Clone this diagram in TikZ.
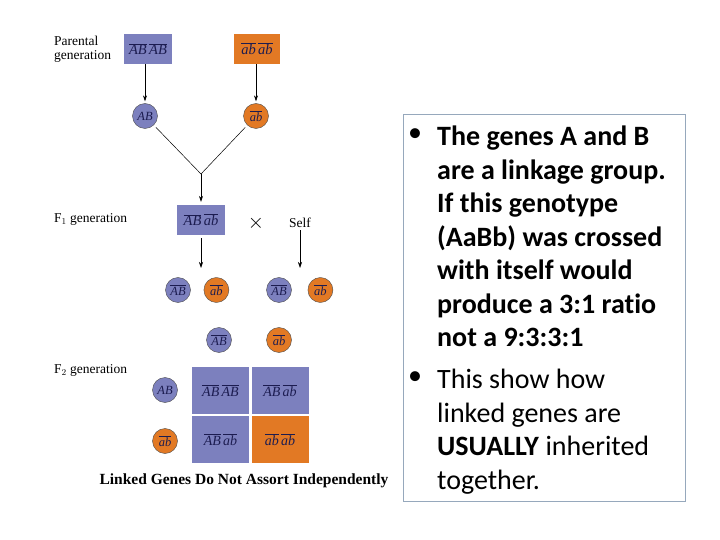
\documentclass[tikz,border=0pt]{standalone}
\usepackage{fontspec}
\setmainfont{Liberation Serif}
\newfontfamily\slidefont[Ligatures=CommonOff]{Carlito}
\usetikzlibrary{arrows.meta, positioning}
\definecolor{geneblue}{RGB}{124,128,190}
\definecolor{geneorange}{RGB}{226,121,36}
\definecolor{genetext}{RGB}{28,28,80}
\definecolor{framegray}{RGB}{150,168,188}
\newcommand{\hap}[1]{$\overline{\mbox{\itshape #1}}$}

\begin{document}
\begin{tikzpicture}[
    x=1pt, y=-1pt,
    genebox/.style={minimum width=48, minimum height=30, inner sep=0, text=genetext, font=\fontsize{14.5}{15}\selectfont},
    gamete/.style={circle, draw=black!70, line width=0.4pt, minimum size=25, inner sep=0, text=genetext, font=\fontsize{12.5}{13}\selectfont},
    cell/.style={minimum width=57, minimum height=47, inner sep=0, text=genetext, font=\fontsize{14}{15}\selectfont},
    lbl/.style={font=\fontsize{13.5}{14}\selectfont, align=left, inner sep=0},
    arr/.style={-{Stealth[length=6pt, width=4pt]}, line width=0.6pt},
    joinline/.style={line width=0.5pt},
    slide/.style={font=\slidefont\fontsize{28}{33.5}\selectfont, align=left, inner sep=0},
    slidebold/.style={slide, font=\slidefont\bfseries\fontsize{28}{33.5}\selectfont}
  ]
    \useasboundingbox (0,0) rectangle (720,540);

    % Parental
    \node[lbl, anchor=west] (plabel) at (54,49) {Parental\\generation};
    \node[genebox, fill=geneblue] (pAB) at (148,49) {\hap{AB}\,\hap{AB}};
    \node[genebox, fill=geneorange, minimum width=46] (pab) at (257,49) {\hap{ab}\,\hap{ab}};
    \node[gamete, fill=geneblue] (gAB) at (145,116) {\itshape AB};
    \node[gamete, fill=geneorange] (gab) at (256,116) {\hap{ab}};
    \coordinate (join) at (201,174);

    % F1
    \node[lbl, anchor=west] (f1label) at (54,219) {F$_1$ generation};
    \node[genebox, fill=geneblue] (F1) at (201,220) {\hap{AB}\,\hap{ab}};
    \node[lbl, font=\fontsize{20}{20}\selectfont] (cross) at (256,223) {$\times$};
    \node[lbl] (self) at (300,223) {Self};
    \coordinate (f1end) at (201,268);
    \coordinate (selfend) at (300,268);

    % gametes
    \node[gamete, fill=geneblue] (g1) at (178,290) {\hap{AB}};
    \node[gamete, fill=geneorange, right=13pt of g1] (g2) {\hap{ab}};
    \node[gamete, fill=geneblue] (g3) at (279,290) {\hap{AB}};
    \node[gamete, fill=geneorange, right=16pt of g3] (g4) {\hap{ab}};
    \node[gamete, fill=geneblue] (g5) at (219,340) {\hap{AB}};
    \node[gamete, fill=geneorange] (g6) at (279,340) {\hap{ab}};

    % F2
    \node[lbl, anchor=west] (f2label) at (54,370) {F$_2$ generation};
    \node[gamete, fill=geneblue] (f2AB) at (165,390) {\itshape AB};
    \node[gamete, fill=geneorange] (f2ab) at (165,441) {\hap{ab}};
    \node[cell, fill=geneblue] (c11) at (220.5,390.5) {\hap{AB}\,\hap{AB}};
    \node[cell, fill=geneblue] (c12) at (280,390.5) {\hap{AB}\,\hap{ab}};
    \node[cell, fill=geneblue] (c21) at (220.5,439.5) {\hap{AB}\,\hap{ab}};
    \node[cell, fill=geneorange] (c22) at (280,439.5) {\hap{ab}\,\hap{ab}};
    \node[font=\bfseries\fontsize{15.5}{17}\selectfont] (caption) at (244,481) {Linked Genes Do Not Assort Independently};

    % Arrows
    \draw[arr, shorten >=2pt] (gAB |- pAB.south) -- (gAB.north);
    \draw[arr, shorten >=2pt] (gab |- pab.south) -- (gab.north);
    \draw[joinline, shorten <=3pt] (gAB) -- (join);
    \draw[joinline, shorten <=3pt] (gab) -- (join);
    \draw[arr, shorten >=3pt] (join) -- (F1.north);
    \draw[arr, shorten <=3pt] (F1.south) -- (f1end);
    \draw[arr, shorten <=2pt] (self.south) -- (selfend);

    % Text box
    \node[draw=framegray, line width=0.8pt, minimum width=282, minimum height=387, anchor=north west, inner sep=0] (frame) at (403,114) {};
    \node[slide] (bulA) at (415,135) {\textbullet};
    \node[slidebold, anchor=north west] (txtA) at (437,126) {The genes A and B\\are a linkage group.\\If this genotype\\(AaBb) was crossed\\with itself would\\produce a 3:1 ratio\\not a 9:3:3:1};
    \node[slide] (bulB) at (415,378) {\textbullet};
    \node[slide, anchor=north west] (txtB) at (437,369) {This show how\\linked genes are\\\textbf{USUALLY} inherited\\together.};
  \end{tikzpicture}
\end{document}
